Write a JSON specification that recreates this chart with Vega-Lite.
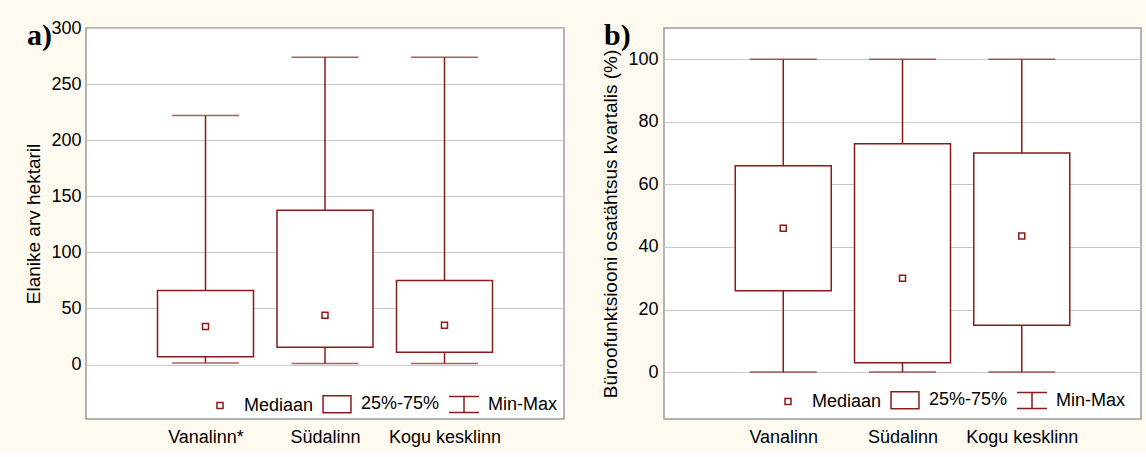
{
  "$schema": "https://vega.github.io/schema/vega-lite/v6.json",
  "autosize": {"type": "pad"},
  "padding": {"left": 24, "top": 18, "right": 6, "bottom": 5},
  "background": "#fffaf0",
  "bounds": "flush",
  "spacing": 100,
  "datasets": {
    "a": [
      {"area": "Vanalinn*", "min": 1.5, "q1": 7, "median": 34, "q3": 66, "max": 222},
      {"area": "Südalinn", "min": 1, "q1": 15.5, "median": 44, "q3": 137.5, "max": 274},
      {"area": "Kogu kesklinn", "min": 1, "q1": 11, "median": 35, "q3": 75, "max": 274}
    ],
    "b": [
      {"area": "Vanalinn", "min": 0, "q1": 26, "median": 46, "q3": 66, "max": 100},
      {"area": "Südalinn", "min": 0, "q1": 3, "median": 30, "q3": 73, "max": 100},
      {"area": "Kogu kesklinn", "min": 0, "q1": 15, "median": 43.5, "q3": 70, "max": 100}
    ]
  },
  "hconcat": [
    {
      "width": 478,
      "height": 391,
      "title": {"text": "a)", "anchor": "start", "frame": "group", "orient": "top", "font": "Liberation Serif", "fontWeight": "bold", "fontSize": 30, "baseline": "alphabetic", "offset": -56, "dx": -59, "color": "#000000"},
      "data": {"name": "a"},
      "encoding": {
        "x": {"field": "area", "type": "nominal", "sort": null, "scale": {"type": "point", "padding": 1}, "axis": {"title": null, "labelAngle": 0, "ticks": false, "domain": false, "labelPadding": 9, "labelFontSize": 18, "labelColor": "#000000"}}
      },
      "layer": [
        {
          "mark": {"type": "rule", "color": "#8b1a1a", "strokeWidth": 1.5},
          "encoding": {
            "y": {"field": "min", "type": "quantitative", "title": "Elanike arv hektaril", "scale": {"domain": [-48.5, 300], "nice": false, "zero": false}, "axis": {"values": [0, 50, 100, 150, 200, 250, 300], "labelFontSize": 18, "labelPadding": 5, "titleFontSize": 19, "titlePadding": 7}},
            "y2": {"field": "max"}
          }
        },
        {
          "mark": {"type": "bar", "width": 96, "fill": "white", "stroke": "#8b1a1a", "strokeWidth": 1.5},
          "encoding": {"y": {"field": "q1", "type": "quantitative", "title": "Elanike arv hektaril"}, "y2": {"field": "q3"}}
        },
        {
          "mark": {"type": "tick", "size": 67, "thickness": 1.5, "color": "#8b1a1a"},
          "encoding": {"y": {"field": "min", "type": "quantitative", "title": "Elanike arv hektaril"}}
        },
        {
          "mark": {"type": "tick", "size": 67, "thickness": 1.5, "color": "#8b1a1a"},
          "encoding": {"y": {"field": "max", "type": "quantitative", "title": "Elanike arv hektaril"}}
        },
        {
          "mark": {"type": "point", "filled": true, "fill": "white", "stroke": "#8b1a1a", "strokeWidth": 1.5, "size": 900, "opacity": 1},
          "encoding": {
            "y": {"field": "median", "type": "quantitative", "title": "Elanike arv hektaril"},
            "shape": {
              "datum": "Mediaan",
              "scale": {"domain": ["Mediaan", "25%-75%", "Min-Max"], "range": ["M-0.2,-0.2L0.2,-0.2L0.2,0.2L-0.2,0.2Z", "M-0.93,-0.57L0.93,-0.57L0.93,0.57L-0.93,0.57Z", "M-1,-0.53L1,-0.53M0,-0.53L0,0.53M-1,0.53L1,0.53"]},
              "legend": {"title": null, "orient": "none", "legendX": 118, "legendY": 360, "direction": "horizontal", "padding": 0, "labelFontSize": 18, "labelColor": "#000000", "labelOffset": 8, "columnPadding": 6, "symbolSize": 900, "symbolStrokeWidth": 1.5,
                "encode": {"symbols": {"update": {"fill": {"value": "#fff7e8"}, "stroke": {"value": "#8b1a1a"}, "strokeWidth": {"value": 1.5}, "opacity": {"value": 1}}}}}
            }
          }
        }
      ]
    },
    {
      "width": 477,
      "height": 391,
      "title": {"text": "b)", "anchor": "start", "frame": "group", "orient": "top", "font": "Liberation Serif", "fontWeight": "bold", "fontSize": 30, "baseline": "alphabetic", "offset": -47, "dx": -60, "color": "#000000"},
      "data": {"name": "b"},
      "encoding": {
        "x": {"field": "area", "type": "nominal", "sort": null, "scale": {"type": "point", "padding": 1}, "axis": {"title": null, "labelAngle": 0, "ticks": false, "domain": false, "labelPadding": 9, "labelFontSize": 18, "labelColor": "#000000"}}
      },
      "layer": [
        {
          "mark": {"type": "rule", "color": "#8b1a1a", "strokeWidth": 1.5},
          "encoding": {
            "y": {"field": "min", "type": "quantitative", "title": "Büroofunktsiooni osatähtsus kvartalis (%)", "scale": {"domain": [-15, 110], "nice": false, "zero": false}, "axis": {"values": [0, 20, 40, 60, 80, 100], "labelFontSize": 18, "labelPadding": 6, "titleFontSize": 19, "titlePadding": 7}},
            "y2": {"field": "max"}
          }
        },
        {
          "mark": {"type": "bar", "width": 96, "fill": "white", "stroke": "#8b1a1a", "strokeWidth": 1.5},
          "encoding": {"y": {"field": "q1", "type": "quantitative", "title": "Büroofunktsiooni osatähtsus kvartalis (%)"}, "y2": {"field": "q3"}}
        },
        {
          "mark": {"type": "tick", "size": 67, "thickness": 1.5, "color": "#8b1a1a"},
          "encoding": {"y": {"field": "min", "type": "quantitative", "title": "Büroofunktsiooni osatähtsus kvartalis (%)"}}
        },
        {
          "mark": {"type": "tick", "size": 67, "thickness": 1.5, "color": "#8b1a1a"},
          "encoding": {"y": {"field": "max", "type": "quantitative", "title": "Büroofunktsiooni osatähtsus kvartalis (%)"}}
        },
        {
          "mark": {"type": "point", "filled": true, "fill": "white", "stroke": "#8b1a1a", "strokeWidth": 1.5, "size": 900, "opacity": 1},
          "encoding": {
            "y": {"field": "median", "type": "quantitative", "title": "Büroofunktsiooni osatähtsus kvartalis (%)"},
            "shape": {
              "datum": "Mediaan",
              "scale": {"domain": ["Mediaan", "25%-75%", "Min-Max"], "range": ["M-0.2,-0.2L0.2,-0.2L0.2,0.2L-0.2,0.2Z", "M-0.93,-0.57L0.93,-0.57L0.93,0.57L-0.93,0.57Z", "M-1,-0.53L1,-0.53M0,-0.53L0,0.53M-1,0.53L1,0.53"]},
              "legend": {"title": null, "orient": "none", "legendX": 108, "legendY": 356, "direction": "horizontal", "padding": 0, "labelFontSize": 18, "labelColor": "#000000", "labelOffset": 8, "columnPadding": 6, "symbolSize": 900, "symbolStrokeWidth": 1.5,
                "encode": {"symbols": {"update": {"fill": {"value": "#fff7e8"}, "stroke": {"value": "#8b1a1a"}, "strokeWidth": {"value": 1.5}, "opacity": {"value": 1}}}}}
            }
          }
        }
      ]
    }
  ],
  "resolve": {"scale": {"shape": "independent", "y": "independent", "x": "independent"}, "legend": {"shape": "independent"}},
  "config": {
    "font": "Liberation Sans",
    "view": {"fill": "white", "stroke": "#9a9a9a", "strokeWidth": 1.5},
    "axis": {"gridColor": "#c8c8c8", "gridWidth": 1.2, "labelColor": "#000000", "titleColor": "#000000", "titleFontWeight": "normal", "ticks": false, "domain": false, "labelFont": "Liberation Sans", "titleFont": "Liberation Sans"},
    "axisX": {"grid": false},
    "legend": {"labelFont": "Liberation Sans"}
  }
}
